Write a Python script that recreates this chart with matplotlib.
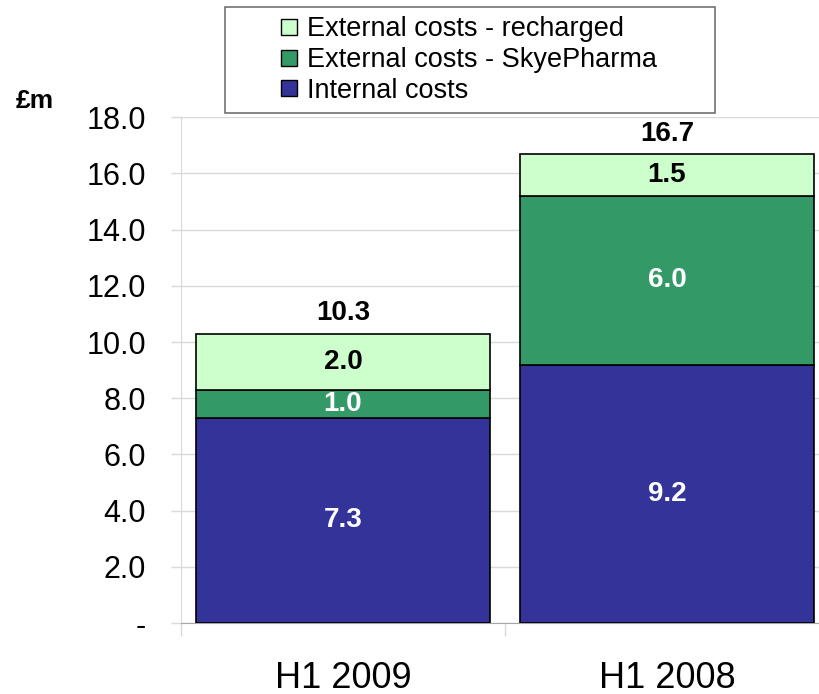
"""
plot.py - R&D cost split, H1 2009 vs H1 2008
"""

import matplotlib
matplotlib.use("Agg")
import matplotlib.pyplot as plt
from matplotlib.lines import Line2D

plt.rcParams['font.family'] = ['Liberation Sans', 'DejaVu Sans']

periods = ["H1 2009", "H1 2008"]
internal = [7.3, 9.2]
external_skye = [1.0, 6.0]
external_recharged = [2.0, 1.5]
totals = [10.3, 16.7]

series_names = ["Internal costs", "External costs - SkyePharma",
                "External costs - recharged"]
series_colors = ["#333399", "#339966", "#CCFFCC"]
label_colors = ["white", "white", "black"]

y_ticks = [0, 2, 4, 6, 8, 10, 12, 14, 16, 18]


def main():
    fig = plt.figure(figsize=(8.2, 6.94), dpi=100)
    ax = fig.add_axes([181 / 820, 1 - 623 / 694, 648 / 820, 505.7 / 694])

    xs = [0.5, 1.5]
    bottoms = [0.0, 0.0]
    for vals, color, tcol in zip([internal, external_skye, external_recharged],
                                 series_colors, label_colors):
        ax.bar(xs, vals, width=0.91, bottom=bottoms, color=color,
               edgecolor="black", linewidth=1.2, zorder=3)
        for x, b, v in zip(xs, bottoms, vals):
            ax.text(x, b + v / 2, f"{v:.1f}", ha="center", va="center",
                    color=tcol, fontsize=20, fontweight="bold", zorder=4)
        bottoms = [b + v for b, v in zip(bottoms, vals)]

    for x, t in zip(xs, totals):
        ax.annotate(f"{t:.1f}", (x, t), xytext=(0, 14.5),
                    textcoords="offset points", ha="center", va="center",
                    fontsize=20, fontweight="bold")

    ax.set_xlim(0, 2)
    ax.set_ylim(0, 18)
    ax.set_yticks(y_ticks)
    ax.set_yticklabels(["-" if v == 0 else f"{v:.1f}" for v in y_ticks])
    ax.tick_params(axis="y", labelsize=22, length=7.2, width=1,
                   color="#D9D9D9", pad=18)
    ax.yaxis.grid(True, color="#D9D9D9", linewidth=1, zorder=0)

    ax.set_xticks([0, 1, 2])
    ax.set_xticklabels([])
    ax.set_xticks(xs, minor=True)
    ax.set_xticklabels(periods, minor=True)
    ax.tick_params(axis="x", which="major", length=9.4, width=1,
                   color="#D9D9D9")
    ax.tick_params(axis="x", which="minor", length=0, labelsize=26, pad=27)

    for side in ["top", "right"]:
        ax.spines[side].set_visible(False)
    ax.spines["left"].set_color("#D9D9D9")
    ax.spines["bottom"].set_color("#A6A6A6")

    handles = [Line2D([], [], marker="s", linestyle="none", markersize=12.2,
                      markerfacecolor=c, markeredgecolor="black",
                      markeredgewidth=1)
               for c in reversed(series_colors)]
    leg = fig.legend(handles, list(reversed(series_names)),
                     loc="upper left",
                     bbox_to_anchor=(225 / 820, 1 - 110 / 694, 490 / 820, 103 / 694),
                     mode="expand", fontsize=19.5, frameon=True, fancybox=False,
                     borderpad=0.35, handlelength=4.0, handletextpad=-1.34,
                     labelspacing=0.17, borderaxespad=0)
    leg.get_frame().set_edgecolor("#404040")
    leg.get_frame().set_linewidth(1.1)

    fig.text(35 / 820, 1 - 101 / 694, "£m", ha="center", va="center",
             fontsize=19, fontweight="bold")

    fig.savefig("out.png", dpi=100)


if __name__ == '__main__':
    main()
